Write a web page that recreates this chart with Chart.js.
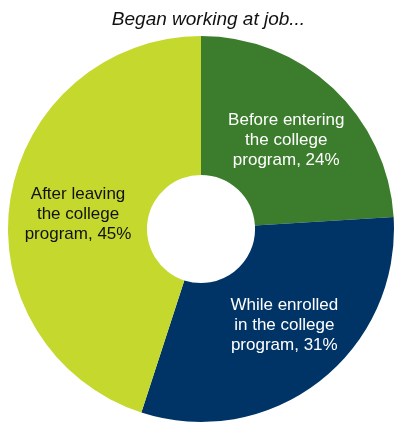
<!DOCTYPE html>
<html>
<head>
<meta charset="utf-8">
<script src="https://cdn.jsdelivr.net/npm/chart.js@4/dist/chart.umd.min.js"></script>
<style>
  html, body { margin: 0; padding: 0; background: #ffffff; }
  #wrap { width: 395px; height: 423px; position: relative; }
</style>
</head>
<body>
<div id="wrap"><canvas id="chart"></canvas></div>
<script>
// When respondents began working at their job
const chartTitle = 'Began working at job...';
const categories = ['Before entering the college program', 'While enrolled in the college program', 'After leaving the college program'];
const shares = [24, 31, 45];
const sliceLabels = [
  ['Before entering', 'the college', 'program, 24%'],
  ['While enrolled', 'in the college', 'program, 31%'],
  ['After leaving', 'the college', 'program, 45%']
];
const sliceColors = ['#3C7D2D', '#003466', '#C5D82E'];
const labelColors = ['#ffffff', '#ffffff', '#111111'];
// small nudges of each label away from its slice's mid-angle point (px)
const labelNudge = [[0, 2], [7, -2], [0, 5]];

const FONT = '"Liberation Sans", Arial, sans-serif';

// Heading above the ring, set slightly right of the ring's centre
const headingPlugin = {
  id: 'heading',
  afterDraw(chart) {
    const ctx = chart.ctx;
    ctx.save();
    ctx.font = 'italic 19px ' + FONT;
    ctx.fillStyle = '#111111';
    ctx.textAlign = 'center';
    ctx.textBaseline = 'middle';
    ctx.fillText(chartTitle, chart.width / 2 + 11, 20);
    ctx.restore();
  }
};

// Writes the multi-line label inside each slice, along its middle angle
const sliceLabelPlugin = {
  id: 'sliceLabels',
  afterDatasetsDraw(chart) {
    const ctx = chart.ctx;
    const meta = chart.getDatasetMeta(0);
    ctx.save();
    ctx.font = '17px ' + FONT;
    ctx.textAlign = 'center';
    ctx.textBaseline = 'middle';
    meta.data.forEach((arc, i) => {
      const p = arc.getProps(['x', 'y', 'startAngle', 'endAngle', 'outerRadius'], true);
      const mid = (p.startAngle + p.endAngle) / 2;
      const r = p.outerRadius * 0.645;
      const cx = p.x + Math.cos(mid) * r + labelNudge[i][0];
      const cy = p.y + Math.sin(mid) * r + labelNudge[i][1];
      const lines = sliceLabels[i];
      const lh = 20;
      ctx.fillStyle = labelColors[i];
      lines.forEach((t, k) => {
        ctx.fillText(t, cx, cy + (k - (lines.length - 1) / 2) * lh);
      });
    });
    ctx.restore();
  }
};

new Chart(document.getElementById('chart'), {
  type: 'doughnut',
  data: {
    labels: categories,
    datasets: [{
      data: shares,
      backgroundColor: sliceColors,
      borderWidth: 0,
      hoverOffset: 0
    }]
  },
  options: {
    responsive: true,
    maintainAspectRatio: false,
    animation: false,
    cutout: '28%',
    layout: { padding: { left: 8, right: 1, top: 36, bottom: 1 } },
    plugins: {
      legend: { display: false },
      tooltip: { enabled: false },
      title: { display: false }
    }
  },
  plugins: [sliceLabelPlugin, headingPlugin]
});
</script>
</body>
</html>
